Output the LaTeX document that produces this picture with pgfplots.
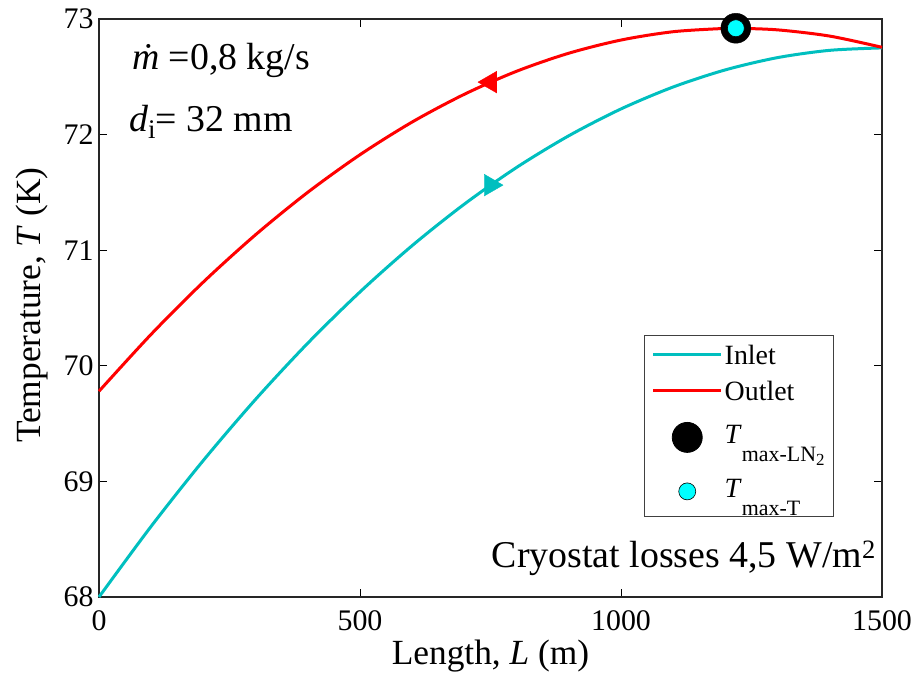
\documentclass[border=0pt]{standalone}
\usepackage{fontspec}
\setmainfont{Liberation Serif}
\usepackage{pgfplots}
\pgfplotsset{compat=1.18}
\definecolor{incyan}{rgb}{0,0.75,0.75}
\definecolor{mkcyan}{rgb}{0,1,1}
\pgfplotsset{
  lineleg/.style={legend image code/.code={\path[draw=none,fill=none] (0bp,-18bp) rectangle (68bp,18bp);\draw[##1] (0bp,0bp) -- (68bp,0bp);}},
  markLNleg/.style={legend image code/.code={\path[draw=none,fill=none] (0bp,-27bp) rectangle (68bp,29bp);\draw[##1] plot coordinates {(34bp,0bp)};}},
  markTleg/.style={legend image code/.code={\path[draw=none,fill=none] (0bp,-24bp) rectangle (68bp,27bp);\draw[##1] plot coordinates {(34bp,0bp)};}},
}
\begin{document}
\begin{tikzpicture}
\useasboundingbox (-99bp,-91bp) rectangle (815bp,597bp);
\begin{axis}[
  scale only axis, width=783bp, height=578bp,
  xmin=0, xmax=1500, ymin=68, ymax=73,
  xtick={0,500,1000,1500}, ytick={68,69,70,71,72,73},
  minor tick num=0,
  tick align=inside, major tick length=8bp,
  tick style={black, line width=0.8bp},
  axis line style={line width=1.1bp, black!85},
  /pgf/number format/assume math mode=true,
  /pgf/number format/1000 sep={},
  xticklabel style={font=\fontsize{30}{31}\selectfont, yshift=-10bp},
  yticklabel style={font=\fontsize{30}{31}\selectfont, xshift=-2bp},
  xlabel={Length, \textit{L} (m)},
  ylabel={Temperature, \textit{T} (K)},
  xlabel style={font=\fontsize{35.5}{37}\selectfont, at={(axis description cs:0.5,-0.1176)}, anchor=base},
  ylabel style={font=\fontsize{35.5}{37}\selectfont, at={(axis description cs:-0.0753,0.505)}, anchor=base},
  clip=false,
  legend cell align=left,
  legend style={at={(axis description cs:0.9387,0.4533)}, anchor=north east,
    font=\fontsize{28}{30}\selectfont, draw=black!75, line width=0.8bp,
    inner xsep=7bp, inner ysep=1bp, row sep=0bp},
]
\addplot[incyan, line width=3bp, smooth, lineleg] coordinates {
(0,68.000) (100,68.612) (200,69.182) (300,69.710) (400,70.196) (500,70.639)
(600,71.040) (700,71.399) (800,71.716) (900,71.990) (1000,72.222) (1100,72.412)
(1200,72.560) (1300,72.666) (1400,72.729) (1500,72.750)};
\addlegendentry{\raisebox{-2bp}{Inlet}}
\addplot[red, line width=3bp, smooth, lineleg] coordinates {
(0,69.780) (100,70.273) (200,70.725) (300,71.134) (400,71.501) (500,71.826)
(600,72.109) (700,72.349) (800,72.548) (900,72.704) (1000,72.818) (1100,72.890)
(1200,72.919) (1220,72.920) (1300,72.906) (1400,72.852) (1500,72.755)};
\addlegendentry{\raisebox{-2bp}{Outlet}}
\addplot[only marks, mark=*, mark size=15bp, black, mark options={fill=black}, markLNleg] coordinates {(1220,72.92)};
\addlegendentry{\raisebox{4bp}{\textit{T}\raisebox{-18bp}{\fontsize{22}{22}\selectfont max-LN\raisebox{-4bp}{\fontsize{17}{17}\selectfont 2}}}}
\addplot[only marks, mark=*, mark size=8.5bp, black, line width=0.6bp, mark options={fill=mkcyan}, markTleg] coordinates {(1220,72.92)};
\addlegendentry{\raisebox{4bp}{\textit{T}\raisebox{-18bp}{\fontsize{22}{22}\selectfont max-T}}}
\addplot[only marks, mark=triangle*, mark size=12.5bp, red, mark options={rotate=90}, forget plot] coordinates {(750,72.454)};
\addplot[only marks, mark=triangle*, mark size=12.5bp, incyan, mark options={rotate=-90}, forget plot] coordinates {(750,71.563)};
\node[anchor=base west, font=\fontsize{38}{40}\selectfont, inner sep=0pt] at (axis description cs:0.042,0.9118) {\textit{\.{m}} =0,8 kg/s};
\node[anchor=base west, font=\fontsize{38}{40}\selectfont, inner sep=0pt] at (axis description cs:0.0383,0.8045) {\textit{d}\raisebox{-7bp}{\fontsize{27}{27}\selectfont i}= 32 mm};
\node[anchor=base east, font=\fontsize{38}{40}\selectfont, inner sep=0pt] at (axis description cs:0.9923,0.0519) {Cryostat losses 4,5 W/m\textsuperscript{2}};
\end{axis}
\end{tikzpicture}
\end{document}
